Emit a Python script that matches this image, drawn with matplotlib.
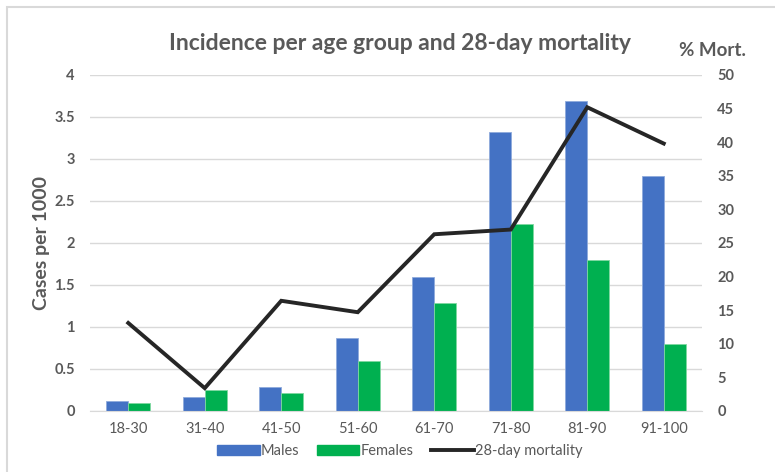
"""Incidence per age group and 28-day mortality (Excel-style combo chart)."""

import matplotlib
matplotlib.use("Agg")
import matplotlib.pyplot as plt
from matplotlib.patches import Rectangle
from matplotlib.lines import Line2D
import numpy as np

age_groups = ["18-30", "31-40", "41-50", "51-60", "61-70", "71-80", "81-90", "91-100"]
males = [0.12, 0.17, 0.29, 0.87, 1.59, 3.32, 3.69, 2.80]
females = [0.10, 0.25, 0.22, 0.59, 1.29, 2.23, 1.80, 0.80]
mortality = [13.1, 3.4, 16.4, 14.7, 26.3, 27.0, 45.2, 39.8]

BLUE = "#4472C4"
GREEN = "#00B050"
GREY = "#595959"

plt.rcParams["font.family"] = ["Lato", "DejaVu Sans"]

fig = plt.figure(figsize=(7.75, 4.72), dpi=100)
W, H = 775, 472
ax = fig.add_axes([90 / W, 1 - 411 / H, (702 - 90) / W, (411 - 75) / H])

# chart border (only left/top visible in the crop)
fig.patches.append(Rectangle((7 / W, -0.1), 1.2, 1 - 7 / H + 0.1, transform=fig.transFigure,
                             fill=False, edgecolor="#D9D9D9", linewidth=1.5))

x = np.arange(len(age_groups))
bw = 0.29
ax.bar(x - bw / 2, males, bw, color=BLUE, edgecolor="#8FAADC", linewidth=0.6, zorder=2)
ax.bar(x + bw / 2, females, bw, color=GREEN, edgecolor="#7FD8A0", linewidth=0.6, zorder=2)

ax.set_ylim(0, 4)
ax.set_xlim(-0.5, len(age_groups) - 0.5)
ax.set_yticks(np.arange(0, 4.01, 0.5))
ax.set_yticklabels(["0", "0.5", "1", "1.5", "2", "2.5", "3", "3.5", "4"])
ax.set_xticks(x)
ax.set_xticklabels(age_groups)
ax.grid(axis="y", color="#D9D9D9", linewidth=1, zorder=0)
ax.set_axisbelow(True)
for s in ["top", "right", "left"]:
    ax.spines[s].set_visible(False)
ax.spines["bottom"].set_color("#D9D9D9")
ax.tick_params(axis="both", length=0)
ax.tick_params(axis="y", pad=11, labelsize=10.5, labelcolor=GREY)
ax.tick_params(axis="x", pad=8, labelsize=10.5, labelcolor=GREY)
for lbl in ax.get_yticklabels():
    lbl.set_fontweight("bold")
ax.set_ylabel("Cases per 1000", fontsize=14, color=GREY, fontweight="bold", labelpad=3)

ax2 = ax.twinx()
ax2.plot(x, mortality, color="#262626", linewidth=2.8, zorder=3, solid_joinstyle="miter")
ax2.set_ylim(0, 50)
ax2.set_yticks(np.arange(0, 51, 5))
for s in ["top", "right", "left", "bottom"]:
    ax2.spines[s].set_visible(False)
ax2.tick_params(axis="y", length=0, pad=11, labelsize=10.5, labelcolor=GREY)
for lbl in ax2.get_yticklabels():
    lbl.set_fontweight("bold")

fig.text(400 / W, 1 - 44 / H, "Incidence per age group and 28-day mortality",
         ha="center", va="center", fontsize=16.5, fontweight="bold", color=GREY)
fig.text(712 / W, 1 - 50 / H, "% Mort.", ha="center", va="center",
         fontsize=13.5, fontweight="bold", color=GREY)

handles = [Rectangle((0, 0), 1, 1, color=BLUE), Rectangle((0, 0), 1, 1, color=GREEN),
           Line2D([0], [0], color="#262626", linewidth=2.8)]
fig.legend(handles, ["Males", "Females", "28-day mortality"], loc="center",
           bbox_to_anchor=(400 / W, 1 - 451 / H), ncol=3, frameon=False,
           fontsize=10.5, labelcolor=GREY, handlelength=2.9, handleheight=0.7,
           handletextpad=0.1, columnspacing=1.2)

fig.savefig("out.png", dpi=100)
